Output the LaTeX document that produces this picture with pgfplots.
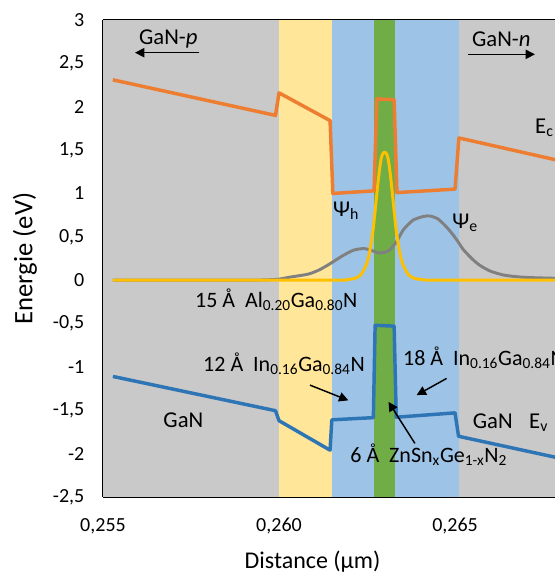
\documentclass[border=0pt]{standalone}
\usepackage{fontspec}
\setmainfont{Carlito}
\usepackage{pgfplots}
\pgfplotsset{compat=1.18}
\usetikzlibrary{arrows.meta}
\definecolor{bggray}{HTML}{C9C9C9}
\definecolor{bgyellow}{HTML}{FFE699}
\definecolor{bgblue}{HTML}{9DC3E6}
\definecolor{bggreen}{HTML}{70AD47}
\definecolor{ecorange}{HTML}{ED7D31}
\definecolor{evblue}{HTML}{2E75B6}
\definecolor{psiyellow}{HTML}{FFC000}
\definecolor{psigray}{HTML}{808080}
\newcommand\ft{\fontsize{15}{18}\selectfont}
\newcommand\fa{\fontsize{16.5}{20}\selectfont}
\newcommand\fb{\fontsize{17}{20}\selectfont}
\begin{document}
\begin{tikzpicture}
\begin{axis}[name=ax, at={(0,0)}, anchor=south west,
  scale only axis, width=339pt, height=357.75pt,
  xmin=0.255, xmax=0.26784, ymin=-2.5, ymax=3,
  axis x line*=box, axis y line*=left,
  xtick pos=left, ytick pos=left,
  axis line style={black, line width=1.2pt},
  xtick={0.255,0.260,0.265},
  ytick={-2.5,-2,-1.5,-1,-0.5,0,0.5,1,1.5,2,2.5,3},
  scaled x ticks=false, scaled y ticks=false,
  major tick length=4.5pt, tick style={black, line width=1pt},
  tick align=inside,
  /pgf/number format/assume math mode=true,
  xticklabel style={font=\ft, yshift=-12.5pt, /pgf/number format/.cd, use comma, fixed, fixed zerofill, precision=3},
  yticklabel style={font=\ft, xshift=-10.5pt, /pgf/number format/.cd, use comma, fixed, precision=1},
  xlabel={Distance (µm)},
  xlabel style={at={(axis description cs:0.4635,-0.1495)}, anchor=base, font=\fontsize{18}{21}\selectfont},
  ylabel={Energie (eV)},
  ylabel style={at={(axis description cs:-0.1726,0.5)}, anchor=center, font=\fontsize{20}{24}\selectfont},
]
% background regions
\addplot[fill=bggray, draw=none] coordinates {(0.255,-2.5) (0.2680,-2.5) (0.2680,3) (0.255,3)} -- cycle;
\addplot[fill=bgyellow, draw=none] coordinates {(0.2600,-2.5) (0.2615,-2.5) (0.2615,3) (0.2600,3)} -- cycle;
\addplot[fill=bgblue, draw=none] coordinates {(0.2615,-2.5) (0.2651,-2.5) (0.2651,3) (0.2615,3)} -- cycle;
\addplot[fill=bggreen, draw=none] coordinates {(0.2627,-2.5) (0.2633,-2.5) (0.2633,3) (0.2627,3)} -- cycle;
% Psi_e
\addplot[psigray, line width=2.2pt, smooth, tension=0.4, line join=round] coordinates {
(0.25528,0) (0.2590,0) (0.2597,0.005) (0.2600,0.012) (0.26031,0.035) (0.26083,0.07) (0.26115,0.12)
(0.26145,0.19) (0.26180,0.28) (0.26211,0.345) (0.26240,0.365) (0.26262,0.345) (0.26282,0.315)
(0.26300,0.32) (0.26315,0.35) (0.26335,0.45) (0.26353,0.58) (0.26380,0.69) (0.26410,0.735)
(0.26429,0.74) (0.26450,0.71) (0.26467,0.65) (0.26482,0.585) (0.26495,0.52) (0.26510,0.435)
(0.26524,0.35) (0.26550,0.24) (0.26571,0.17) (0.26600,0.105) (0.26637,0.06) (0.26675,0.04)
(0.26713,0.03) (0.26800,0.02)};
% Psi_h
\addplot[psiyellow, line width=2.2pt, smooth, tension=0.4, line join=round] coordinates {
(0.25528,0) (0.26150,0) (0.26190,0.005) (0.26215,0.02) (0.26225,0.04) (0.26234,0.07) (0.26242,0.13)
(0.26250,0.20) (0.26257,0.32) (0.26263,0.46) (0.26267,0.57) (0.26270,0.68) (0.26275,0.88)
(0.26280,1.08) (0.26285,1.26) (0.26290,1.40) (0.26295,1.46) (0.26300,1.48) (0.26305,1.46)
(0.26310,1.40) (0.26315,1.26) (0.26320,1.08) (0.26325,0.88) (0.26330,0.68) (0.26333,0.57)
(0.26337,0.46) (0.26343,0.32) (0.26350,0.20) (0.26358,0.13) (0.26366,0.07) (0.26375,0.04)
(0.26385,0.02) (0.26410,0.005) (0.26450,0) (0.26800,0)};
% E_c
\addplot[ecorange, line width=2.6pt, line join=round] coordinates {
(0.25528,2.31) (0.25990,1.90) (0.26000,2.16) (0.26145,1.84) (0.26153,1.00) (0.26270,1.03)
(0.26278,2.09) (0.26327,2.08) (0.26335,1.01) (0.26500,1.05) (0.26511,1.64) (0.26800,1.375)};
% E_v
\addplot[evblue, line width=2.6pt, line join=round] coordinates {
(0.25528,-1.11) (0.25990,-1.505) (0.26000,-1.62) (0.26145,-1.96) (0.26150,-1.61) (0.26268,-1.585)
(0.26273,-0.52) (0.26327,-0.53) (0.26333,-1.58) (0.26500,-1.53) (0.26510,-1.80) (0.26800,-2.055)};
% annotations
\node[anchor=base west, font=\fb, inner sep=0pt] at (axis cs:0.25602,2.723) {GaN-\textit{p}};
\draw[-{Triangle[length=7pt,width=7pt]}, line width=1.1pt] (axis cs:0.25773,2.623) -- (axis cs:0.25591,2.623);
\node[anchor=base west, font=\fb, inner sep=0pt] at (axis cs:0.26548,2.689) {GaN-\textit{n}};
\draw[-{Triangle[length=7pt,width=7pt]}, line width=1.1pt] (axis cs:0.26537,2.604) -- (axis cs:0.26727,2.604);
\node[anchor=base west, font=\fb, inner sep=0pt] at (axis cs:0.26727,1.697) {E\textsubscript{c}};
\node[anchor=base west, font=\fb, inner sep=0pt] at (axis cs:0.26153,0.739) {Ψ\textsubscript{h}};
\node[anchor=base west, font=\fb, inner sep=0pt] at (axis cs:0.26492,0.601) {Ψ\textsubscript{e}};
\node[anchor=base west, font=\fa, inner sep=0pt] at (axis cs:0.25761,-0.310) {15 Å\ \ Al\textsubscript{0.20}Ga\textsubscript{0.80}N};
\node[anchor=base west, font=\fa, inner sep=0pt] at (axis cs:0.25784,-1.048) {12 Å\ \ In\textsubscript{0.16}Ga\textsubscript{0.84}N};
\draw[-{Triangle[length=7pt,width=7pt]}, line width=1.1pt] (axis cs:0.26088,-1.210) -- (axis cs:0.26197,-1.386);
\node[anchor=base west, font=\fa, inner sep=0pt] at (axis cs:0.26352,-0.979) {18 Å\ \ In\textsubscript{0.16}Ga\textsubscript{0.84}N};
\draw[-{Triangle[length=7pt,width=7pt]}, line width=1.1pt] (axis cs:0.26476,-1.133) -- (axis cs:0.26391,-1.325);
\node[anchor=base west, font=\fb, inner sep=0pt] at (axis cs:0.25671,-1.694) {GaN};
\node[anchor=base west, font=\fb, inner sep=0pt] at (axis cs:0.26550,-1.706) {GaN};
\node[anchor=base west, font=\fb, inner sep=0pt] at (axis cs:0.26710,-1.706) {E\textsubscript{v}};
\node[anchor=base west, font=\fa, inner sep=0pt] at (axis cs:0.26202,-2.098) {6 Å\ \ ZnSn\textsubscript{x}Ge\textsubscript{1-x}N\textsubscript{2}};
\draw[-{Triangle[length=7pt,width=7pt]}, line width=1.1pt] (axis cs:0.26386,-1.882) -- (axis cs:0.26311,-1.403);
\end{axis}
\pgfresetboundingbox
\useasboundingbox ([xshift=-77.25pt,yshift=-57.75pt]ax.south west) rectangle ([yshift=15pt]ax.north east);
\end{tikzpicture}
\end{document}
